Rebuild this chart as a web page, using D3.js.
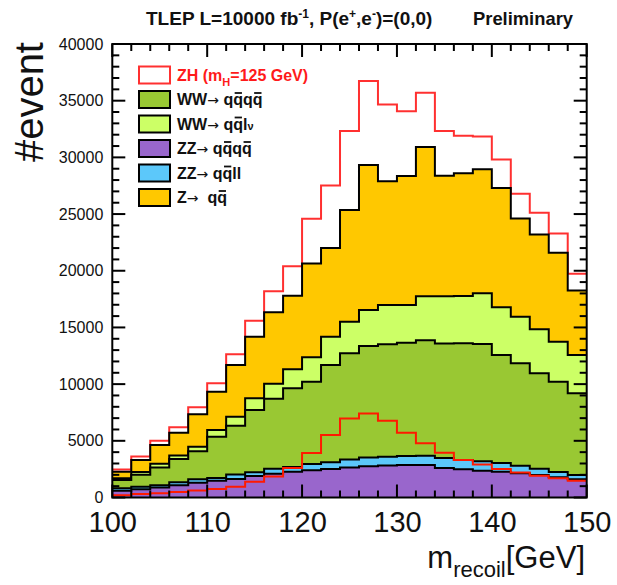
<!DOCTYPE html>
<html>
<head>
<meta charset="utf-8">
<script src="https://cdn.jsdelivr.net/npm/d3@7"></script>
<style>
  html, body { margin: 0; padding: 0; background: #fff; }
  svg { display: block; }
  text { font-family: "Liberation Sans", Arial, Helvetica, sans-serif; fill: #111; white-space: pre; }
</style>
</head>
<body>
<svg id="chart" width="617" height="585"></svg>
<script>
// Recoil-mass histogram, 2 GeV bins from 100 to 150 GeV
const binLow = [100,102,104,106,108,110,112,114,116,118,120,122,124,126,128,130,132,134,136,138,140,142,144,146,148];
const binWidth = 2;

// Background samples (events per bin), stacked bottom to top
const zzQQQQ = [600,720,880,1080,1310,1470,1640,1900,2100,2280,2400,2520,2650,2750,2830,2860,2860,2600,2490,2370,2280,2135,1985,1780,1605];
const zzQQLL = [210,230,200,270,290,250,380,330,430,420,550,600,700,770,770,800,820,880,820,820,760,665,560,480,380];
const wwQQQQ = [740,1050,1570,2050,2480,3630,4310,5490,6170,6930,7265,8570,9370,9840,9910,9995,10190,10100,10290,10350,9530,9035,8410,7955,7205];
const wwQQLV = [150,250,320,300,400,600,800,1030,1340,1680,2155,2495,2790,3180,3470,3325,3880,4170,4170,4470,4205,4115,3880,3530,3380];
const zQQ    = [570,1060,1650,2020,2870,3380,4560,5435,6310,6490,8280,7815,9850,12790,10920,11380,13170,10630,10820,10940,10525,8650,8355,7850,5680];
// Signal ZH (mH = 125 GeV)
const zhSignal = [200,300,380,480,620,740,950,1395,1850,2600,3930,5510,6970,7400,6760,5715,4780,3955,3310,2900,2515,2200,1925,1690,1485];

const yTicksMajor = [0,5000,10000,15000,20000,25000,30000,35000,40000];
const xTicksMajor = [100,110,120,130,140,150];

const svg = d3.select("#chart");
const frameL = 112.3, frameR = 586.7, frameT = 44, frameB = 497.5;

const x = d3.scaleLinear().domain([100,150]).range([frameL,frameR]);
const y = d3.scaleLinear().domain([0,40000]).range([frameB,frameT]);

// cumulative stack (bottom -> top)
const layers = [
  {key:"zzqqqq", vals:zzQQQQ, fill:"#9966cc", stroke:"#000"},
  {key:"zzqqll", vals:zzQQLL, fill:"#5cc8fa", stroke:"#000"},
  {key:"wwqqqq", vals:wwQQQQ, fill:"#99c833", stroke:"#000"},
  {key:"wwqqlv", vals:wwQQLV, fill:"#ccff66", stroke:"#000"},
  {key:"zqq",    vals:zQQ,    fill:"#ffc800", stroke:"#000"},
  {key:"zh",     vals:zhSignal, fill:"#fff",  stroke:"#ff3030"}
];
let running = binLow.map(() => 0);
layers.forEach(l => {
  running = running.map((r,i) => r + l.vals[i]);
  l.cum = running.slice();
});

function stepPoints(vals) {
  const pts = [];
  vals.forEach((v,i) => {
    pts.push({x: binLow[i], v});
    pts.push({x: binLow[i] + binWidth, v});
  });
  return pts;
}
const area = d3.area().x(d => x(d.x)).y0(y(0)).y1(d => y(d.v));
const line = d3.line().x(d => x(d.x)).y(d => y(d.v));

const plot = svg.append("g");
// draw from the top of the stack downwards so each lower layer covers the one above
layers.slice().reverse().forEach(l => {
  const pts = stepPoints(l.cum);
  plot.append("path").attr("d", area(pts)).attr("fill", l.fill);
  plot.append("path").attr("d", line(pts)).attr("fill","none")
    .attr("stroke", l.stroke).attr("stroke-width", 2).attr("stroke-linejoin","miter");
});
// signal alone
plot.append("path").attr("d", line(stepPoints(zhSignal))).attr("fill","none")
  .attr("stroke","#ff1a00").attr("stroke-width",2);

// frame
svg.append("rect").attr("x",frameL).attr("y",frameT).attr("width",frameR-frameL).attr("height",frameB-frameT)
  .attr("fill","none").attr("stroke","#000").attr("stroke-width",2);

// ticks on all four sides, pointing inwards
const tk = svg.append("g").attr("stroke","#000").attr("stroke-width",2);
d3.range(0,40001,1000).forEach(v => {
  const len = v % 5000 === 0 ? 13 : 7;
  tk.append("line").attr("x1",frameL).attr("x2",frameL+len).attr("y1",y(v)).attr("y2",y(v));
  tk.append("line").attr("x1",frameR).attr("x2",frameR-len).attr("y1",y(v)).attr("y2",y(v));
});
d3.range(100,150.01,2).forEach(v => {
  const len = v % 10 === 0 ? 13 : 7;
  tk.append("line").attr("x1",x(v)).attr("x2",x(v)).attr("y1",frameB).attr("y2",frameB-len);
  tk.append("line").attr("x1",x(v)).attr("x2",x(v)).attr("y1",frameT).attr("y2",frameT+len);
});

// axis labels via d3 axes (lines hidden, only text kept)
const yAxis = d3.axisLeft(y).tickValues(yTicksMajor).tickFormat(d3.format("d")).tickSize(0).tickPadding(9);
const gy = svg.append("g").attr("transform",`translate(${frameL},0)`).call(yAxis);
gy.select(".domain").remove();
gy.selectAll("text").style("font-size","16px").style("font-family","Liberation Sans, Arial, sans-serif").attr("fill","#111");

const xAxis = d3.axisBottom(x).tickValues(xTicksMajor).tickFormat(d3.format("d")).tickSize(0).tickPadding(0);
const gx = svg.append("g").attr("transform",`translate(0,${frameB})`).call(xAxis);
gx.select(".domain").remove();
gx.selectAll("text").attr("dy",null).attr("y",34).style("font-size","29px").style("font-family","Liberation Sans, Arial, sans-serif").attr("fill","#111");

// axis titles
const xt = svg.append("text").attr("x",585).attr("y",568).attr("text-anchor","end").style("font-size","31px");
xt.append("tspan").text("m");
xt.append("tspan").attr("dy",9).style("font-size","22px").text("recoil");
xt.append("tspan").attr("dy",-9).text("[GeV]");

svg.append("text").attr("transform","translate(43,42) rotate(-90)").attr("text-anchor","end")
  .style("font-size","40px").text("#event");

// title
const tt = svg.append("text").attr("x",146).attr("y",25).style("font-size","19px").style("font-weight","bold");
tt.append("tspan").text("TLEP L=10000 fb");
tt.append("tspan").attr("dy",-7).style("font-size","12px").text("-1");
tt.append("tspan").attr("dy",7).text(", P(e");
tt.append("tspan").attr("dy",-7).style("font-size","12px").text("+");
tt.append("tspan").attr("dy",7).text(",e");
tt.append("tspan").attr("dy",-7).style("font-size","12px").text("-");
tt.append("tspan").attr("dy",7).text(")=(0,0)");
svg.append("text").attr("x",573).attr("y",25).attr("text-anchor","end")
  .attr("textLength",100).attr("lengthAdjust","spacingAndGlyphs")
  .style("font-size","19px").style("font-weight","bold").text("Preliminary");

// legend
const legendRows = [
  {fill:"#fff", stroke:"#ff3030", color:"#ff1a1a", parts:[{t:"ZH (m"},{t:"H",sub:true},{t:"=125 GeV)",up:true}]},
  {fill:"#99c833", stroke:"#000", parts:[{t:"WW"},{t:"\u2192",arrow:true},{t:" q"},{t:"q",bar:true},{t:"q"},{t:"q",bar:true}]},
  {fill:"#ccff66", stroke:"#000", parts:[{t:"WW"},{t:"\u2192",arrow:true},{t:" q"},{t:"q",bar:true},{t:"l"},{t:"\u03bd",small:true}]},
  {fill:"#9966cc", stroke:"#000", parts:[{t:"ZZ"},{t:"\u2192",arrow:true},{t:" q"},{t:"q",bar:true},{t:"q"},{t:"q",bar:true}]},
  {fill:"#5cc8fa", stroke:"#000", parts:[{t:"ZZ"},{t:"\u2192",arrow:true},{t:" q"},{t:"q",bar:true},{t:"ll"}]},
  {fill:"#ffc800", stroke:"#000", parts:[{t:"Z"},{t:"\u2192",arrow:true},{t:"\u00a0 q"},{t:"q",bar:true}]}
];
const lg = svg.append("g");
legendRows.forEach((r,i) => {
  const cy = 75 + i*24.5;
  lg.append("rect").attr("x",139).attr("y",cy-8.5).attr("width",31).attr("height",17)
    .attr("fill",r.fill).attr("stroke",r.stroke).attr("stroke-width",2);
  const t = lg.append("text").attr("x",177).attr("y",cy+5.5).style("font-size","16px")
    .style("font-weight","bold").style("fill", r.color || "#111");
  const bars = [];
  r.parts.forEach(p => {
    const s = t.append("tspan").text(p.t);
    if (p.sub) s.attr("dy",5).style("font-size","11px");
    if (p.up) s.attr("dy",-5);
    if (p.small) s.style("font-size","11px");
    if (p.arrow) s.style("font-family","DejaVu Sans, sans-serif").style("font-weight","normal").style("font-size","14px");
    if (p.bar) bars.push(s.node());
  });
  bars.forEach(node => {
    const b = node.getBBox();
    lg.append("line").attr("x1",b.x+1.5).attr("x2",b.x+b.width-1)
      .attr("y1",cy-6.5).attr("y2",cy-6.5).attr("stroke","#111").attr("stroke-width",1.8);
  });
});
</script>
</body>
</html>
